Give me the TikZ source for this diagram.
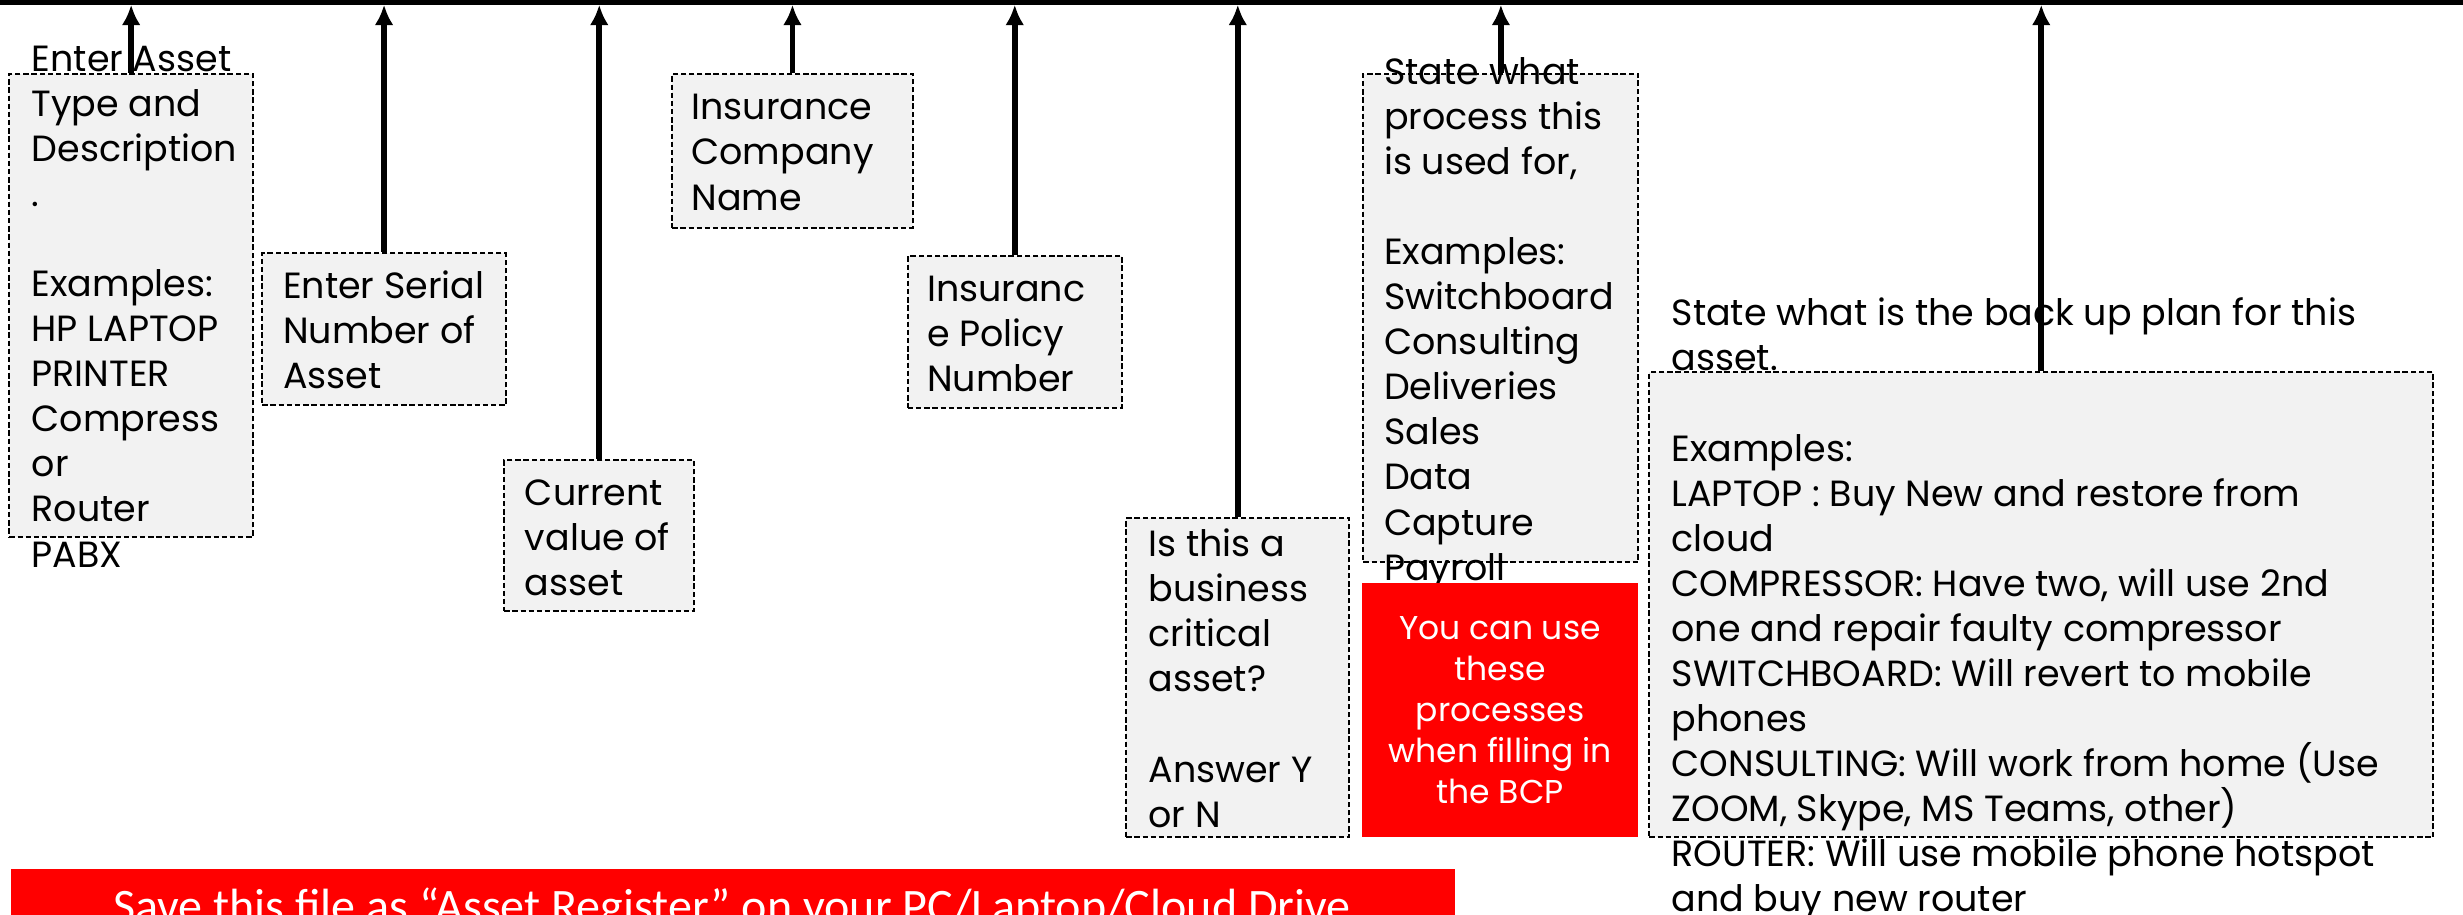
\documentclass[tikz,border=0pt]{standalone}
\usepackage{fontspec}
\setmainfont{Poppins}
\newfontfamily\calfont{Carlito}
\usetikzlibrary{arrows.meta}
\definecolor{boxgray}{HTML}{F2F2F2}
\definecolor{alertred}{HTML}{FF0000}

\begin{document}
\begin{tikzpicture}[x=1pt, y=-1pt,
    field/.style={draw, fill=boxgray, line width=1.3pt, dash pattern=on 3.4pt off 1.8pt, inner sep=0pt},
    txt/.style={anchor=base west, align=left, inner sep=0pt, font=\fontsize{23.2}{28.7}\selectfont},
    alert/.style={fill=alertred, text=white, align=center, inner sep=0pt, font=\fontsize{21}{26}\selectfont},
    ptr/.style={line width=3.6pt, -{Latex[length=13pt,width=12pt]}}]
    \useasboundingbox (0,0) rectangle (1568,582);

    % header row of the sheet
    \draw[gray!70, line width=0.8pt] (0,0.4) -- (1568,0.4);
    \foreach \x in {165,327,432,573,715,859,1040}
        {\draw[gray!60, line width=0.6pt] (\x,0) -- (\x,1.5);}
    \draw[line width=2.8pt] (0,1.6) -- (1568,1.6);
    \coordinate (topline) at (0,3);

    % hint boxes
    \node[field, minimum width=155, minimum height=295] (typebox) at (83.5,194.5) {};
    \node[field, minimum width=155, minimum height=97] (serialbox) at (244.5,209.5) {};
    \node[field, minimum width=121, minimum height=96] (valuebox) at (381.5,341) {};
    \node[field, minimum width=153, minimum height=98] (insurerbox) at (504.5,96) {};
    \node[field, minimum width=136, minimum height=97] (policybox) at (646,211.5) {};
    \node[field, minimum width=142, minimum height=203] (criticalbox) at (788,431.5) {};
    \node[field, minimum width=175, minimum height=311] (processbox) at (955.5,202.5) {};
    \node[field, minimum width=499, minimum height=296] (backupbox) at (1299.5,385) {};

    % hint texts (placed by the baseline of their last line)
    \node[txt] (typetxt) at (20,361) {Enter Asset\\Type and\\Description\\.\\\mbox{}\\Examples:\\HP LAPTOP\\PRINTER\\Compress\\or\\Router\\PABX};
    \node[txt] (serialtxt) at (180,247.4) {Enter Serial\\Number of\\Asset};
    \node[txt] (valuetxt) at (334,378.9) {Current\\value of\\asset};
    \node[txt] (insurertxt) at (440,133.7) {Insurance\\Company\\Name};
    \node[txt] (policytxt) at (590,249.2) {Insuranc\\e Policy\\Number};
    \node[txt] (criticaltxt) at (731,526.6) {Is this a\\business\\critical\\asset?\\\mbox{}\\Answer Y\\or N};
    \node[txt] (processtxt) at (881,369.3) {State what\\process this\\is used for,\\\mbox{}\\Examples:\\Switchboard\\Consulting\\Deliveries\\Sales\\Data\\Capture\\Payroll};
    \node[txt] (backuptxt) at (1064,580.5) {State what is the back up plan for this\\asset.\\\mbox{}\\Examples:\\LAPTOP : Buy New and restore from\\cloud\\COMPRESSOR: Have two, will use 2nd\\one and repair faulty compressor\\SWITCHBOARD: Will revert to mobile\\phones\\CONSULTING: Will work from home (Use\\ZOOM, Skype, MS Teams, other)\\ROUTER: Will use mobile phone hotspot\\and buy new router};

    % red notes
    \node[alert, minimum width=176, minimum height=162] (usebox) at (955,452) {You can use\\these\\processes\\when filling in\\the BCP};
    \node[fill=alertred, minimum width=919, minimum height=60, inner sep=0pt, anchor=north west] (savebar) at (7,553) {};
    \node[anchor=base, text=white, inner sep=0pt, font=\calfont\fontsize{30.6}{34}\selectfont] (savetxt) at (466,587) {Save this file as “Asset Register” on your PC/Laptop/Cloud Drive};

    % pointers up to the columns
    \foreach \b in {typebox,serialbox,valuebox,insurerbox,policybox,criticalbox,processbox,backupbox}
        {\draw[ptr] (\b.north) -- (\b.north |- topline);}
\end{tikzpicture}
\end{document}
